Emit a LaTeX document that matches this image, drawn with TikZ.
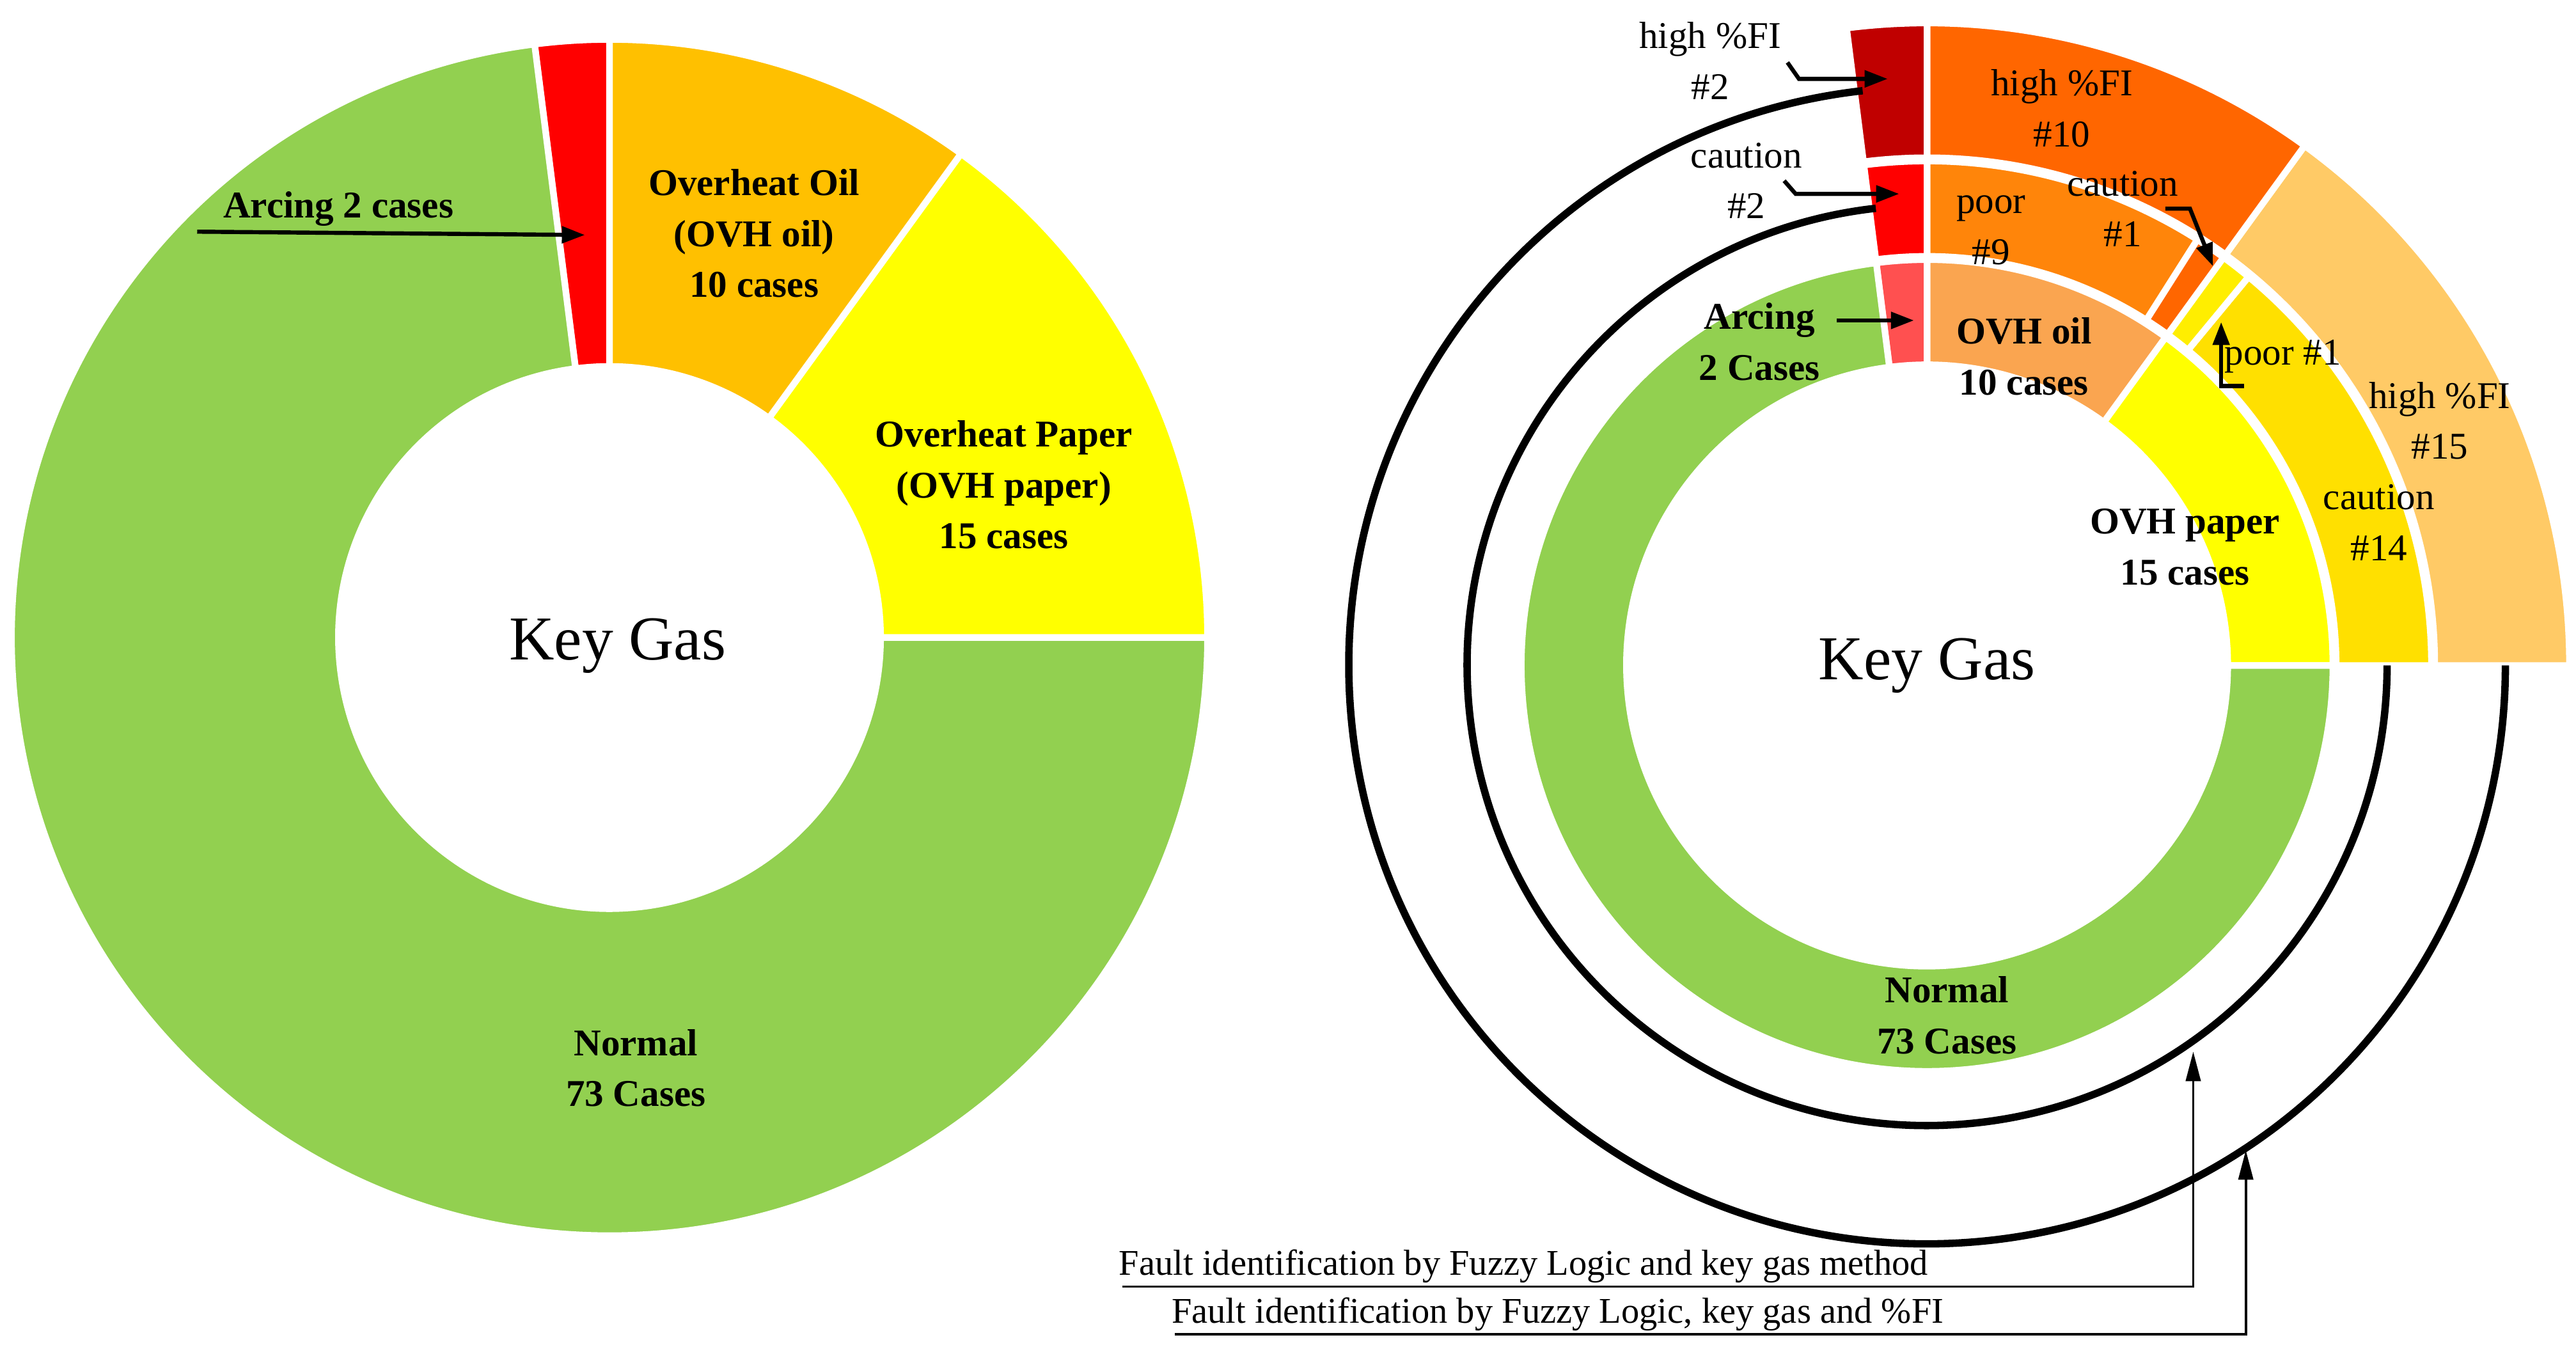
\documentclass[tikz,border=0pt]{standalone}
\usepackage{fontspec}
\setmainfont{Liberation Serif}
\usetikzlibrary{arrows.meta}
\newcommand\annsec[5]{\fill[#1,draw=white,line width=4pt] (#2:#4) arc[start angle=#2,end angle=#3,radius=#4] -- (#3:#5) arc[start angle=#3,end angle=#2,radius=#5] -- cycle;}
\tikzset{
 lbl/.style={font=\fontsize{23}{31}\selectfont\bfseries,align=center,inner sep=0pt},
 sml/.style={font=\fontsize{23}{31}\selectfont,align=center,inner sep=0pt},
 arr/.style={line width=2.5pt,-{Triangle[length=14pt,width=10pt]}},
 ring/.style={line width=4.5pt,black},
 lead/.style={line width=1.5pt,-{Triangle[length=18pt,width=9pt]}}
}
\definecolor{gr}{HTML}{92D050}
\definecolor{oil}{HTML}{FFC000}
\definecolor{pap}{HTML}{FFFF00}
\definecolor{arc1}{HTML}{FF5050}
\definecolor{oilin}{HTML}{FAA550}
\definecolor{poor9}{HTML}{FF850A}
\definecolor{hi10}{HTML}{FF6600}
\definecolor{poor1}{HTML}{FFEE00}
\definecolor{cau14}{HTML}{FFE000}
\definecolor{hi15}{HTML}{FFCA66}
\definecolor{dred}{HTML}{C00000}
\begin{document}
\begin{tikzpicture}[x=1pt,y=1pt]
\useasboundingbox (0,0) rectangle (1568,-825);
% left donut
\begin{scope}[shift={(371,-388)}]
\annsec{pap}{0}{54}{165}{364}
\annsec{oil}{54}{90}{165}{364}
\annsec{red}{90}{97.2}{165}{364}
\annsec{gr}{97.2}{360}{165}{364}
\end{scope}
\node[lbl] (lk) at (376,-393) {\fontsize{38}{40}\selectfont\mdseries Key Gas};
\node[lbl] (loil) at (459,-142) {Overheat Oil\\(OVH oil)\\10 cases};
\node[lbl] (lpap) at (611,-295) {Overheat Paper\\(OVH paper)\\15 cases};
\node[lbl] (lnorm) at (387,-650) {Normal\\73 Cases};
\node[lbl] (larc) at (206,-127) {Arcing 2 cases};
\coordinate (larcs) at (120,-141);
\coordinate (larce) at (356,-143);
\draw[arr] (larcs) -- (larce);
% right donut
\begin{scope}[shift={(1173,-405)}]
\annsec{pap}{0}{54}{183}{247}
\annsec{oilin}{54}{90}{183}{247}
\annsec{arc1}{90}{97.2}{183}{247}
\annsec{gr}{97.2}{360}{183}{247}
\annsec{cau14}{0}{50.4}{249}{307}
\annsec{poor1}{50.4}{54}{249}{307}
\annsec{hi10}{54}{57.6}{249}{307}
\annsec{poor9}{57.6}{90}{249}{307}
\annsec{red}{90}{97.2}{249}{307}
\annsec{hi15}{0}{54}{309}{391}
\annsec{hi10}{54}{90}{309}{391}
\annsec{dred}{90}{97.2}{309}{391}
\draw[ring] (96.4:280) arc[start angle=96.4,end angle=360,radius=280];
\draw[ring] (96.4:352) arc[start angle=96.4,end angle=360,radius=352];
\end{scope}
\node[lbl] (rk) at (1173,-405) {\fontsize{38}{40}\selectfont\mdseries Key Gas};
\node[lbl] (rpap) at (1330,-333) {OVH paper\\15 cases};
\node[lbl] (roil) at (1232,-217) {OVH oil\\10 cases};
\node[lbl] (rnorm) at (1185,-618) {Normal\\73 Cases};
\node[lbl] (rarc) at (1071,-208) {Arcing\\2 Cases};
\node[sml] (h10) at (1255,-66) {high \%FI\\\#10};
\node[sml] (h15) at (1485,-256) {high \%FI\\\#15};
\node[sml] (c14) at (1448,-318) {caution\\\#14};
\node[sml] (p9) at (1212,-140) {poor\\\#9};
\node[sml] (c1) at (1292,-127) {caution\\\#1};
\node[sml,anchor=west] (p1) at (1354,-217) {poor \#1};
\node[sml] (h2) at (1041,-37) {high \%FI\\\#2};
\node[sml] (c2) at (1063,-110) {caution\\\#2};
\coordinate (h2a) at (1088,-38);
\coordinate (h2b) at (1095,-48);
\coordinate (h2c) at (1149,-48);
\draw[arr] (h2a) -- (h2b) -- (h2c);
\coordinate (c2a) at (1086,-110);
\coordinate (c2b) at (1093,-118);
\coordinate (c2c) at (1156,-118);
\draw[arr] (c2a) -- (c2b) -- (c2c);
\coordinate (c1a) at (1318,-127);
\coordinate (c1b) at (1333,-127);
\coordinate (c1c) at (1347,-162);
\draw[arr] (c1a) -- (c1b) -- (c1c);
\coordinate (p1a) at (1366,-235);
\coordinate (p1b) at (1352,-235);
\coordinate (p1c) at (1352,-196);
\draw[arr] (p1a) -- (p1b) -- (p1c);
\coordinate (ra1) at (1118,-195);
\coordinate (ra2) at (1165,-195);
\draw[arr] (ra1) -- (ra2);
% legends
\node[sml,font=\fontsize{22}{26}\selectfont,anchor=south west] (f1) at (681,-781) {Fault identification by Fuzzy Logic and key gas method};
\node[sml,font=\fontsize{22}{26}\selectfont,anchor=south west] (f2) at (713,-810) {Fault identification by Fuzzy Logic, key gas and \%FI};
\coordinate (f1a) at (683,-783);
\coordinate (f1b) at (1335,-783);
\coordinate (f1c) at (1335,-640);
\coordinate (f2a) at (715,-812);
\coordinate (f2b) at (1367,-812);
\coordinate (f2c) at (1367,-700);
\draw[lead] (f1a) -- (f1b) -- (f1c);
\draw[lead] (f2a) -- (f2b) -- (f2c);
\end{tikzpicture}
\end{document}
